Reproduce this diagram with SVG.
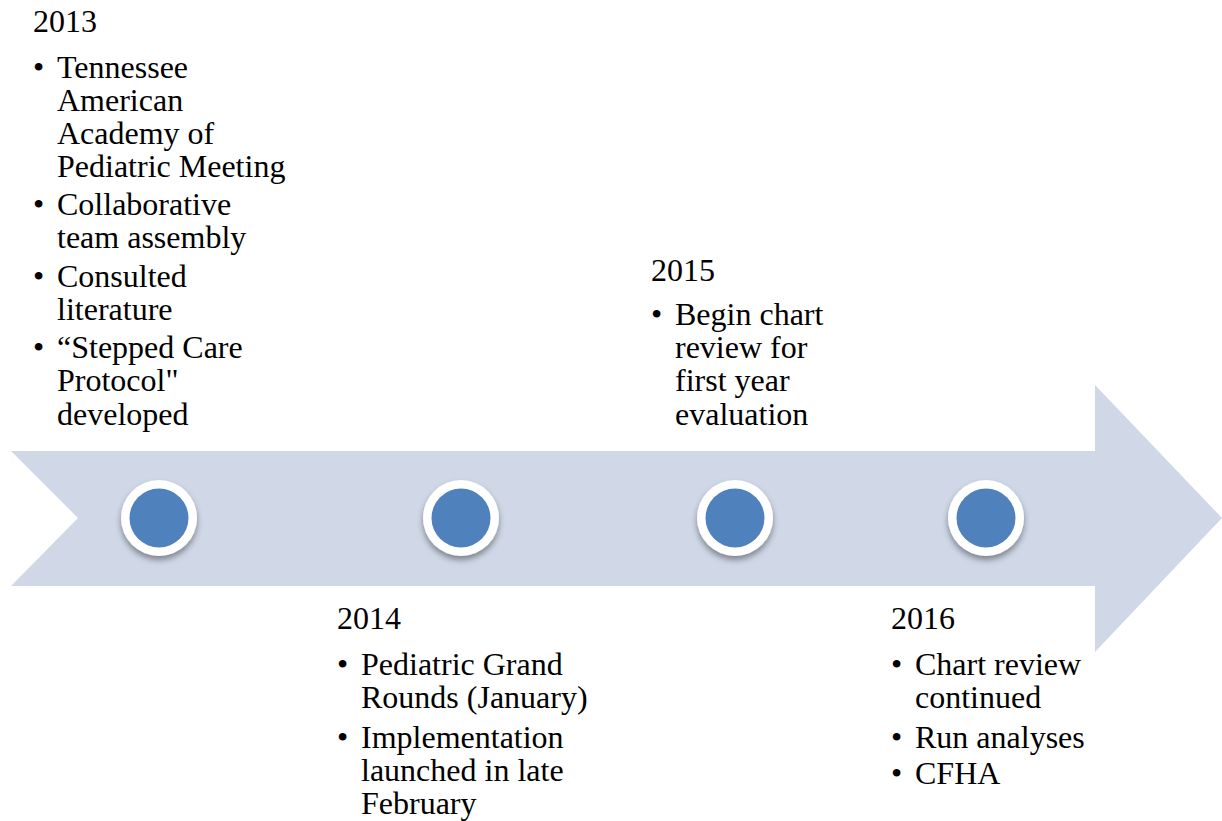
<svg xmlns="http://www.w3.org/2000/svg" width="1222" height="821" viewBox="0 0 1222 821">
<style>
.t{font-family:'Liberation Serif','Times New Roman',serif;font-size:32px;fill:#000}
.ring{fill:#fff}
.dot{fill:#4F81BD}
</style>
<defs>
<filter id="sh" x="-30%" y="-30%" width="160%" height="170%">
<feDropShadow dx="0" dy="4" stdDeviation="3" flood-color="#000" flood-opacity="0.4"/>
</filter>
</defs>
<rect width="1222" height="821" fill="#fff"/>
<g id="connectors">
<polygon id="arrow" points="11,451 1095,451 1095,385 1222,518 1095,652 1095,586 11,586 78,518" fill="#D0D8E8"/>
</g>
<g id="node-2013-dot"><circle class="ring" cx="159" cy="518" r="38" filter="url(#sh)"/><circle class="dot" cx="159" cy="518" r="29.5"/></g>
<g id="node-2014-dot"><circle class="ring" cx="461" cy="518" r="38" filter="url(#sh)"/><circle class="dot" cx="461" cy="518" r="29.5"/></g>
<g id="node-2015-dot"><circle class="ring" cx="735" cy="518" r="38" filter="url(#sh)"/><circle class="dot" cx="735" cy="518" r="29.5"/></g>
<g id="node-2016-dot"><circle class="ring" cx="986" cy="518" r="38" filter="url(#sh)"/><circle class="dot" cx="986" cy="518" r="29.5"/></g>
<g id="node-2013" class="t">
<text x="33" y="32">2013</text>
<text y="78"><tspan x="33">•</tspan><tspan x="57">Tennessee</tspan></text>
<text x="57" y="111">American</text>
<text x="57" y="144">Academy of</text>
<text x="57" y="177">Pediatric Meeting</text>
<text y="215"><tspan x="33">•</tspan><tspan x="57">Collaborative</tspan></text>
<text x="57" y="248">team assembly</text>
<text y="287"><tspan x="33">•</tspan><tspan x="57">Consulted</tspan></text>
<text x="57" y="320">literature</text>
<text y="358"><tspan x="33">•</tspan><tspan x="57">“Stepped Care</tspan></text>
<text x="57" y="391">Protocol"</text>
<text x="57" y="425">developed</text>
</g>
<g id="node-2015" class="t">
<text x="651" y="281">2015</text>
<text y="325"><tspan x="651">•</tspan><tspan x="675">Begin chart</tspan></text>
<text x="675" y="358">review for</text>
<text x="675" y="391">first year</text>
<text x="675" y="425">evaluation</text>
</g>
<g id="node-2014" class="t">
<text x="337" y="629">2014</text>
<text y="675"><tspan x="337">•</tspan><tspan x="361">Pediatric Grand</tspan></text>
<text x="361" y="708">Rounds (January)</text>
<text y="748"><tspan x="337">•</tspan><tspan x="361">Implementation</tspan></text>
<text x="361" y="781">launched in late</text>
<text x="361" y="814">February</text>
</g>
<g id="node-2016" class="t">
<text x="891" y="629">2016</text>
<text y="675"><tspan x="891">•</tspan><tspan x="915">Chart review</tspan></text>
<text x="915" y="708">continued</text>
<text y="748"><tspan x="891">•</tspan><tspan x="915">Run analyses</tspan></text>
<text y="784"><tspan x="891">•</tspan><tspan x="915">CFHA</tspan></text>
</g>
</svg>
